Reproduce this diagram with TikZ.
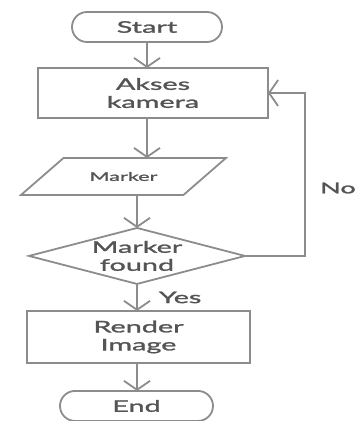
\documentclass[tikz,border=0pt]{standalone}
\usepackage{fontspec}
\usepackage{xcolor}
\usepackage{tikz}
\usetikzlibrary{arrows.meta, positioning, shapes.geometric}
\newfontfamily\flowfont[FakeStretch=1.8, FakeBold=1.6]{Lato}
\definecolor{flowline}{gray}{0.55}
\definecolor{flowtext}{gray}{0.33}

\begin{document}
\begin{tikzpicture}[
  x=1pt, y=-1pt,
  >={Straight Barb[length=9pt, width=26pt]},
  font=\flowfont\fontsize{16}{18}\selectfont,
  text=flowtext,
  line width=1.8pt,
  base/.style={draw=flowline, align=center, inner sep=0pt, outer sep=0pt},
  term/.style={base, rectangle, rounded corners=15pt,
    minimum height=30pt},
  proc/.style={base, rectangle, minimum height=50pt},
  io/.style={base, trapezium, trapezium left angle=41,
    trapezium right angle=139,
    inner xsep=26pt, inner ysep=14pt,
    font=\flowfont\fontsize{12}{14}\selectfont},
  decide/.style={base, diamond, aspect=3.86,
    inner xsep=-12pt, inner ysep=-7pt,
    minimum width=216pt, minimum height=56pt},
  flow/.style={draw=flowline, ->},
  lbl/.style={text=flowtext, inner sep=0pt},
]
\useasboundingbox (0,0) rectangle (358,421);

% --- Start and camera ---
\node[term, minimum width=150pt] (START) at (147,27) {Start};
\node[proc, minimum width=230pt, below=26pt of START, xshift=6pt] (CAM) {Akses\\ kamera};

% --- Marker input + decision ---
\node[io, below=40pt of CAM, xshift=-29.5pt] (MARK) {Marker};
\node[decide, below=33pt of MARK, xshift=13.5pt] (FOUND) {Marker\\ found};

% --- Render + end ---
\node[proc, minimum width=223pt, minimum height=52pt, below=27pt of FOUND, xshift=1.5pt] (RENDER) {Render\\ Image};
\node[term, minimum width=153pt, below=28pt of RENDER, xshift=-2pt] (END) {End};

% --- Arrows ---
\draw[flow] (START.south) -- (START.south |- CAM.north);
\draw[flow] (CAM.south -| START.south) -- (START.south |- MARK.north);
\draw[flow] (FOUND.north |- MARK.south) -- (FOUND.north);
\draw[flow] (FOUND.south) -- (FOUND.south |- RENDER.north)
  node[lbl, midway, right=21pt] (YES) {Yes};
\draw[flow] (RENDER.south -| FOUND.south) -- (FOUND.south |- END.north);

% --- No loop ---
\coordinate[right=60pt of FOUND.east] (LOOP);
\draw[flow, line join=miter] (FOUND.east) -- (LOOP) |- (CAM.east);
\node[lbl, font=\flowfont\fontsize{15}{17}\selectfont] (NO) at (338,188) {No};

\end{tikzpicture}
\end{document}
